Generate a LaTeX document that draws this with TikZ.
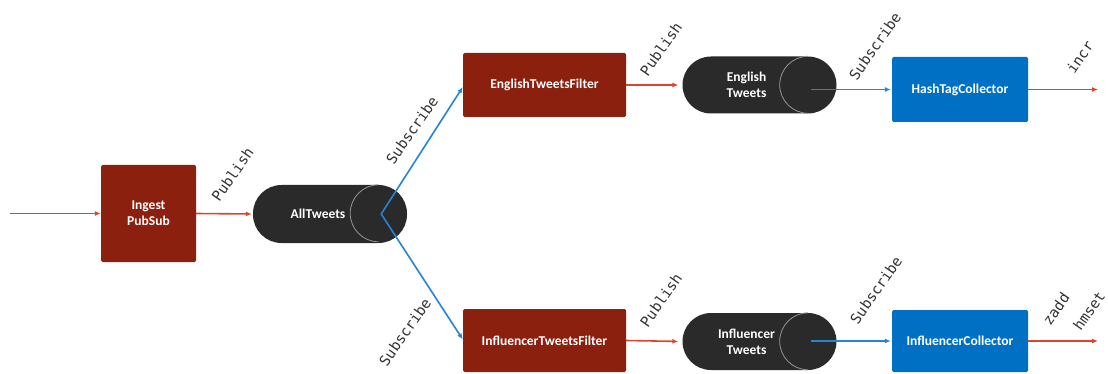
\documentclass[tikz,border=0pt]{standalone}
\usepackage{fontspec}
\setmainfont{Carlito}
\newfontfamily\monofam{DejaVu Sans Mono}
\usetikzlibrary{arrows.meta}
\definecolor{procred}{RGB}{139,32,14}
\definecolor{collblue}{RGB}{0,112,196}
\definecolor{topicdark}{RGB}{42,42,42}
\definecolor{pubred}{RGB}{218,70,44}
\definecolor{subblue}{RGB}{36,132,214}
\definecolor{labelgray}{RGB}{50,50,50}
\definecolor{facegray}{RGB}{150,150,150}
\begin{document}
\begin{tikzpicture}[x=1pt,y=-1pt,
  boxtext/.style={text=white, font=\fontsize{13.5}{16}\selectfont\bfseries, align=center, inner sep=0pt},
  procbox/.style={boxtext, fill=procred, rounded corners=1.5pt},
  collbox/.style={boxtext, fill=collblue, rounded corners=1.5pt},
  topic/.style={boxtext, fill=topicdark, rounded corners=28.5pt, minimum width=154pt, minimum height=57pt},
  face/.style={draw=facegray, line width=0.8pt},
  tip/.style={-{Latex[length=6pt,width=5pt]}},
  pub/.style={draw=pubred, line width=1.6pt, tip},
  sub/.style={draw=subblue, line width=1.6pt, tip},
  edgelabel/.style={font=\monofam\fontsize{14.5}{15}\selectfont, text=labelgray, rotate=55, inner sep=0pt}
]
\useasboundingbox (0,0) rectangle (1108,374);

% processing and collector boxes
\node[procbox, minimum width=95pt, minimum height=97pt] (ingest) at (148.5,213.5) {Ingest\\PubSub};
\node[procbox, minimum width=163pt, minimum height=64pt] (etf) at (544.5,85) {EnglishTweetsFilter};
\node[procbox, minimum width=163pt, minimum height=63pt] (itf) at (544.5,340.5) {InfluencerTweetsFilter};
\node[collbox, minimum width=136pt, minimum height=65pt] (htc) at (960,89.5) {HashTagCollector};
\node[collbox, minimum width=136pt, minimum height=62pt] (ic) at (960,341) {InfluencerCollector};

% topics drawn as horizontal cylinders
\node[topic, minimum height=58pt, text width=120pt] (allt) at (330,214) {\hspace*{-24pt}AllTweets};
\node[topic, text width=120pt] (et) at (759.5,85) {\hspace*{-26pt}English\\\hspace*{-26pt}Tweets};
\node[topic, text width=120pt] (it) at (759.5,341.5) {\hspace*{-26pt}Influencer\\\hspace*{-26pt}Tweets};

\foreach \t in {allt,et,it}{
  \draw[face] ([xshift=-28.5pt]\t.north east) arc[start angle=90, end angle=270, radius=28.5pt];
  \coordinate (\t c) at ([xshift=-26pt]\t.east);
}

% free ends of the outer connectors
\coordinate (src) at (10,213.5);
\coordinate (sink) at (1098,0);

% publish connectors
\draw[pub] (src) -- (ingest.west);
\draw[pub, shorten >=1pt] (ingest.east) -- (allt.west);
\draw[pub, shorten >=4pt] (etf.east) -- (et.west);
\draw[pub, shorten >=4pt] (itf.east) -- (it.west);
\draw[pub] (htc.east) -- (htc.east -| sink);
\draw[pub] (ic.east) -- (ic.east -| sink);

% subscribe connectors
\draw[sub] (alltc) -- ([yshift=-2pt]etf.west);
\draw[sub] (alltc) -- ([yshift=1pt]itf.west);
\draw[sub, shorten >=1pt] (etc |- htc.west) -- (htc.west);
\draw[sub, shorten >=1pt] (itc |- ic.west) -- (ic.west);

% connector labels
\node[edgelabel] (l1) at (232.5,174.5) {Publish};
\node[edgelabel] (l2) at (412,130) {Subscribe};
\node[edgelabel] (l3) at (405,332) {Subscribe};
\node[edgelabel] (l4) at (661,49) {Publish};
\node[edgelabel] (l5) at (661,300) {Publish};
\node[edgelabel] (l6) at (875,46) {Subscribe};
\node[edgelabel] (l7) at (876,290) {Subscribe};
\node[edgelabel] (l8) at (1080,57) {incr};
\node[edgelabel] (l9) at (1056,309) {zadd};
\node[edgelabel] (l10) at (1089,311) {hmset};
\end{tikzpicture}
\end{document}
